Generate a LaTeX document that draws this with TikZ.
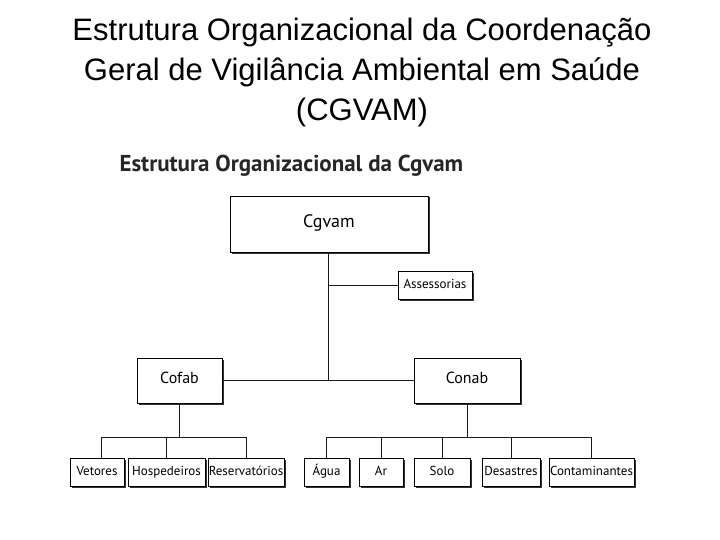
\documentclass[tikz,border=0pt]{standalone}
\usepackage{fontspec}
\setmainfont{Liberation Sans}
\newfontfamily\boxfont{PT Sans}
\usepackage{tikz}
\usetikzlibrary{
  positioning,
  shadows
}

\tikzset{
  unit/.style={draw,thick,fill=white,inner sep=0pt,text height=1.5ex,text depth=.3ex,font=\boxfont,
    drop shadow={shadow xshift=1.5pt,shadow yshift=-1.5pt,fill=black!80,opacity=1}},
  link/.style={draw,line width=1pt,gray!20!black}
}

\begin{document}
\begin{tikzpicture}[x=1pt,y=-1pt]
  \useasboundingbox (0,0) rectangle (720,540);
  % 表題
  \node[font=\fontsize{31}{40}\selectfont,align=center] (title) at (362,72)
    {Estrutura Organizacional da Coordenação\\Geral de Vigilância Ambiental em Saúde\\(CGVAM)};
  \node[anchor=west,font=\boxfont\bfseries\fontsize{23}{26}\selectfont,text=black!85] (sub) at (116,166)
    {Estrutura Organizacional da Cgvam};
  % 上位の枠
  \node[unit,minimum width=198,minimum height=56,font=\boxfont\fontsize{18}{20}\selectfont] (cgvam) at (329,224) {Cgvam};
  \node[unit,minimum width=74,minimum height=28,font=\boxfont\fontsize{13}{15}\selectfont] (ass) at (435,285) {Assessorias};
  \node[unit,minimum width=85,minimum height=45,font=\boxfont\fontsize{16}{18}\selectfont] (cofab) at (179.5,380.5) {Cofab};
  \node[unit,minimum width=106,minimum height=45,font=\boxfont\fontsize{16}{18}\selectfont] (conab) at (467,380.5) {Conab};
  % 下位の枠
  \foreach \name/\x/\w/\txt in {vet/97/54/Vetores, hos/166.5/77/Hospedeiros,
      res/246/76/Reservatórios, agu/326.5/45/Água, ar/381/44/Ar, solo/442/56/Solo,
      des/511/58/Desastres, con/591.5/85/Contaminantes}
    \node[unit,minimum width=\w,minimum height=28,font=\boxfont\fontsize{13}{15}\selectfont] (\name) at (\x,472) {\txt};
  % 接続線
  \coordinate (mid) at (328,380);
  \path[link] (cgvam.south -| mid) -- (mid);
  \path[link] (ass.west) -- (ass.west -| mid);
  \path[link] (cofab.east) -- (conab.west);
  \path[link] (cofab.south) -- (cofab.south |- 0,437);
  \path[link] (vet.north -| 101,0) |- (res.north |- 0,437) -- (res.north);
  \path[link] (hos.north) -- (hos.north |- 0,437);
  \path[link] (conab.south) -- (conab.south |- 0,437);
  \path[link] (agu.north) |- (con.north |- 0,437) -- (con.north);
  \foreach \n in {ar,solo,des}
    \path[link] (\n.north) -- (\n.north |- 0,437);
\end{tikzpicture}
\end{document}
